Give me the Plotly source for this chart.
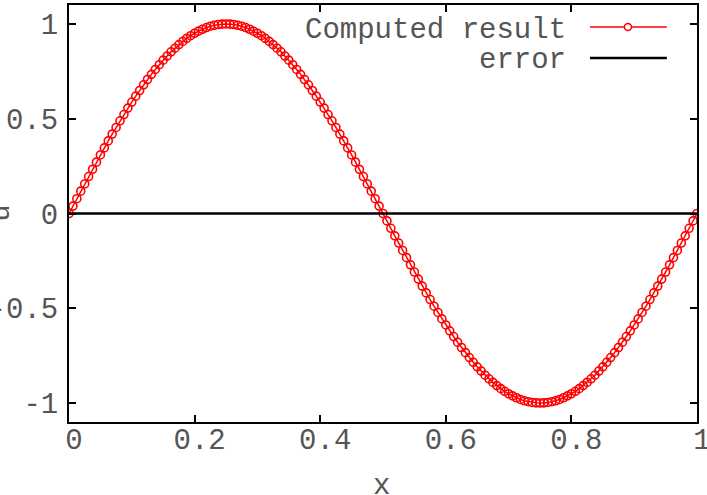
import plotly.graph_objects as go

# ---- data ----
x_start = 0.0
x_step = 0.00625
u_computed = [
    0.000, 0.039, 0.078, 0.118, 0.156, 0.195, 0.233, 0.271, 0.309, 0.346,
    0.383, 0.419, 0.454, 0.489, 0.522, 0.556, 0.588, 0.619, 0.649, 0.679,
    0.707, 0.734, 0.760, 0.785, 0.809, 0.831, 0.853, 0.872, 0.891, 0.908,
    0.924, 0.938, 0.951, 0.962, 0.972, 0.981, 0.988, 0.993, 0.997, 0.999,
    1.000,
    0.999, 0.997, 0.993, 0.988, 0.981, 0.972, 0.962, 0.951, 0.938, 0.924,
    0.908, 0.891, 0.872, 0.853, 0.831, 0.809, 0.785, 0.760, 0.734, 0.707,
    0.679, 0.649, 0.619, 0.588, 0.556, 0.522, 0.489, 0.454, 0.419, 0.383,
    0.346, 0.309, 0.271, 0.233, 0.195, 0.156, 0.118, 0.078, 0.039, 0.000,
    -0.039, -0.078, -0.118, -0.156, -0.195, -0.233, -0.271, -0.309, -0.346, -0.383,
    -0.419, -0.454, -0.489, -0.522, -0.556, -0.588, -0.619, -0.649, -0.679, -0.707,
    -0.734, -0.760, -0.785, -0.809, -0.831, -0.853, -0.872, -0.891, -0.908, -0.924,
    -0.938, -0.951, -0.962, -0.972, -0.981, -0.988, -0.993, -0.997, -0.999, -1.000,
    -0.999, -0.997, -0.993, -0.988, -0.981, -0.972, -0.962, -0.951, -0.938, -0.924,
    -0.908, -0.891, -0.872, -0.853, -0.831, -0.809, -0.785, -0.760, -0.734, -0.707,
    -0.679, -0.649, -0.619, -0.588, -0.556, -0.522, -0.489, -0.454, -0.419, -0.383,
    -0.346, -0.309, -0.271, -0.233, -0.195, -0.156, -0.118, -0.078, -0.039, 0.000,
]
error_values = [0.0] * len(u_computed)

x_tickvals = [0, 0.2, 0.4, 0.6, 0.8, 1]
x_ticktext = ["0", "0.2", "0.4", "0.6", "0.8", "1"]
y_tickvals = [-1, -0.5, 0, 0.5, 1]
y_ticktext = ["-1", "-0.5", "0", "0.5", "1"]
series_names = ["Computed result", "error"]
x_title = "x"
y_title = "u"

FONT = "Liberation Mono, Courier New, monospace"
TXT = "#555555"
FS = 29

fig = go.Figure()
fig.add_trace(go.Scatter(
    x0=x_start, dx=x_step, y=u_computed, mode="lines+markers",
    name=series_names[0],
    line=dict(color="#ff0000", width=1.5),
    marker=dict(symbol="circle-open", size=8, color="#ff0000",
                line=dict(width=1.6, color="#ff0000")),
    showlegend=False,
))
fig.add_trace(go.Scatter(
    x0=x_start, dx=x_step, y=error_values, mode="lines",
    name=series_names[1],
    line=dict(color="#000000", width=2.5),
    showlegend=False,
))

axis_common = dict(
    showline=True, linecolor="black", linewidth=2, mirror="ticks",
    ticks="inside", ticklen=7, tickwidth=1.5, tickcolor="black",
    showgrid=False, zeroline=False, automargin=False,
    ticklabeloverflow="allow",
    tickfont=dict(family=FONT, size=FS, color=TXT),
)

fig.update_layout(
    width=707, height=495,
    margin=dict(l=69, r=10, t=5, b=73),
    plot_bgcolor="white", paper_bgcolor="white",
    font=dict(family=FONT, size=FS, color=TXT),
    xaxis=dict(range=[0, 1], tickvals=x_tickvals, ticktext=x_ticktext,
               ticklabelshift=5, ticklabelstandoff=-10,
               **axis_common),
    yaxis=dict(range=[-1.1, 1.1], tickvals=y_tickvals, ticktext=y_ticktext,
               ticklabelstandoff=3,
               **axis_common),
)

# axis titles (y title partly clipped at the left edge as in the reference)
fig.add_annotation(text=x_title, xref="paper", yref="paper", x=0.497, y=-0.155,
                   xanchor="center", yanchor="middle",
                   showarrow=False, font=dict(family=FONT, size=FS, color=TXT))
fig.add_annotation(text=y_title, xref="paper", yref="paper", x=-0.108, y=0.5,
                   xanchor="center", yanchor="middle", textangle=-90,
                   showarrow=False, font=dict(family=FONT, size=FS, color=TXT))

# key (text to the left of the sample, gnuplot style)
fig.add_annotation(text=series_names[0], xref="paper", yref="paper",
                   x=0.795, y=0.94, xanchor="right", yanchor="middle",
                   showarrow=False, font=dict(family=FONT, size=FS, color=TXT))
fig.add_annotation(text=series_names[1], xref="paper", yref="paper",
                   x=0.795, y=0.866, xanchor="right", yanchor="middle",
                   showarrow=False, font=dict(family=FONT, size=FS, color=TXT))
fig.add_shape(type="line", xref="paper", yref="paper",
              x0=0.8296, x1=0.952, y0=0.947, y1=0.947,
              line=dict(color="#ff0000", width=1.5))
fig.add_shape(type="circle", xref="paper", yref="paper",
              xsizemode="pixel", ysizemode="pixel",
              xanchor=0.890, yanchor=0.947, x0=-3.5, x1=3.5, y0=-3.5, y1=3.5,
              line=dict(color="#ff0000", width=1.5), fillcolor="white")
fig.add_shape(type="line", xref="paper", yref="paper",
              x0=0.8296, x1=0.952, y0=0.873, y1=0.873,
              line=dict(color="#000000", width=2.5))

fig.write_html("out.html")
